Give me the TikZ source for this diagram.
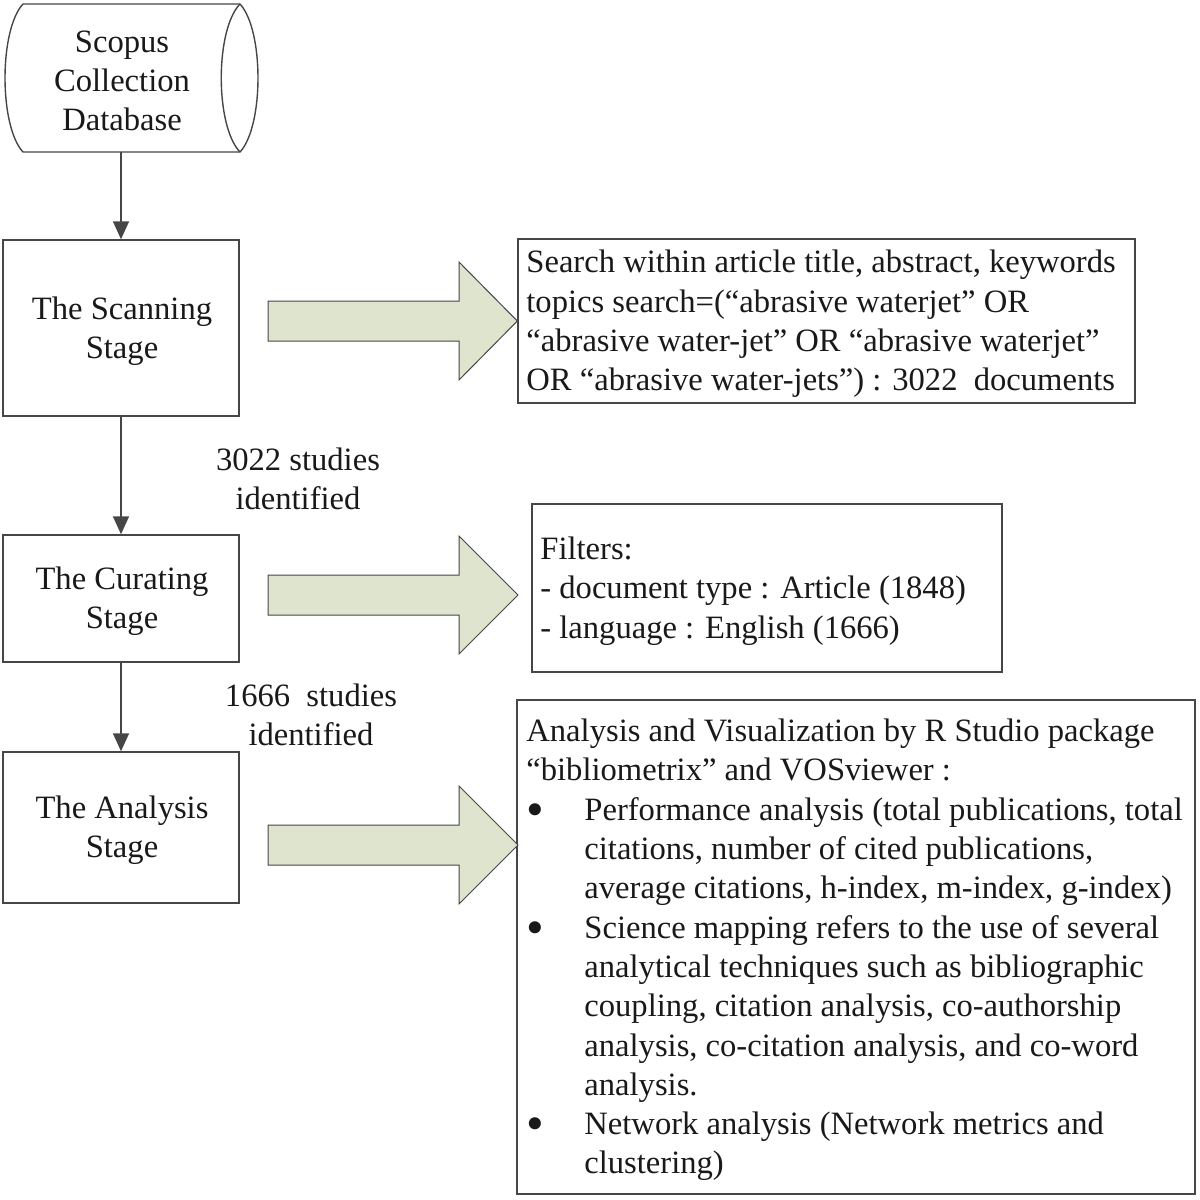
\documentclass[tikz,border=0pt]{standalone}
\usepackage{fontspec}
\setmainfont{Liberation Serif}
\usetikzlibrary{arrows.meta}
\definecolor{arrowfill}{RGB}{222,228,205}
\definecolor{edge}{RGB}{70,70,70}
\newcommand{\blockarr}[2]{%
  \draw[blockarr] (268,#2-20) -- (459,#2-20) -- (459,#2-59) -- (#1) -- (459,#2+59) -- (459,#2+20) -- (268,#2+20) -- cycle;}
\newcommand{\bul}{\makebox[29pt][l]{\raisebox{-0.4ex}{\scalebox{1.55}{\textbullet}}}}
\begin{document}
\begin{tikzpicture}[x=0.5pt,y=-0.5pt,
  every node/.style={font=\fontsize{16.3}{19.65}\selectfont, text=black!90},
  stagebox/.style={draw=edge, line width=0.7pt, minimum width=118pt, align=center, inner sep=0pt},
  infobox/.style={draw=edge, line width=0.7pt, inner sep=0pt},
  infotext/.style={anchor=west, align=left, inner sep=0pt},
  flow/.style={draw=edge, line width=0.7pt, -{Triangle[width=8pt,length=9pt]}},
  blockarr/.style={draw=edge, line width=0.5pt, fill=arrowfill},
  lbl/.style={align=center, inner sep=0pt}]
\useasboundingbox (0,0) rectangle (1200,1200);

% database shape
\draw[edge, line width=0.7pt, fill=white] (23,4) -- (240,4)
  .. controls (264,30) and (264,126) .. (240,152) -- (23,152)
  .. controls (-1,126) and (-1,30) .. (23,4) -- cycle;
\draw[edge, line width=0.7pt] (240,4) .. controls (215,30) and (215,126) .. (240,152);
\node[minimum height=74pt, minimum width=10pt, inner sep=0pt, align=center] (db) at (121,78) {};
\node[lbl] (dbtxt) at (122,81) {Scopus\\Collection\\Database};

% stage boxes
\node[stagebox, minimum height=88pt] (scan) at (121,328) {};
\node[lbl] (scantxt) at (122,331) {The Scanning\\Stage};
\node[stagebox, minimum height=63.5pt] (cur) at (121,598.5) {};
\node[lbl] (curtxt) at (122,601) {The Curating\\Stage};
\node[stagebox, minimum height=75.5pt] (ana) at (121,827.5) {};
\node[lbl] (anatxt) at (122,830) {The Analysis\\Stage};

% vertical arrows
\draw[flow] (db.south) -- (scan.north);
\draw[flow] (scan.south) -- (cur.north);
\draw[flow] (cur.south) -- (ana.north);

\node[lbl] (l1) at (298,479) {3022 studies\\identified};
\node[lbl] (l2) at (311,714.5) {1666\ \ studies\\identified};

% right boxes
\node[infobox, minimum width=308.5pt, minimum height=82pt] (sbox) at (826.5,321) {};
\node[infobox, minimum width=235pt, minimum height=84pt] (fbox) at (767,588) {};
\node[infobox, minimum width=339pt, minimum height=247pt] (abox) at (856,947) {};

\node[infotext] (stxt) at (526,324) {Search within article title, abstract, keywords\\
topics search=(“abrasive waterjet” OR\\
“abrasive water-jet” OR “abrasive waterjet”\\
OR “abrasive water-jets”) : 3022\ \ documents};

\node[infotext] (ftxt) at (540,591) {Filters:\\
- document type : Article (1848)\\
- language : English (1666)};

\node[infotext] (atxt) at (526,950) {Analysis and Visualization by R Studio package\\
“bibliometrix” and VOSviewer :\\
\bul Performance analysis (total publications, total\\
\hspace*{29pt}citations, number of cited publications,\\
\hspace*{29pt}average citations, h-index, m-index, g-index)\\
\bul Science mapping refers to the use of several\\
\hspace*{29pt}analytical techniques such as bibliographic\\
\hspace*{29pt}coupling, citation analysis, co-authorship\\
\hspace*{29pt}analysis, co-citation analysis, and co-word\\
\hspace*{29pt}analysis.\\
\bul Network analysis (Network metrics and\\
\hspace*{29pt}clustering)};

% block arrows
\blockarr{sbox.west}{321}
\coordinate (ftip) at (518,595);
\blockarr{ftip}{595}
\coordinate (atip) at (518,845);
\blockarr{atip}{845}
\end{tikzpicture}
\end{document}
